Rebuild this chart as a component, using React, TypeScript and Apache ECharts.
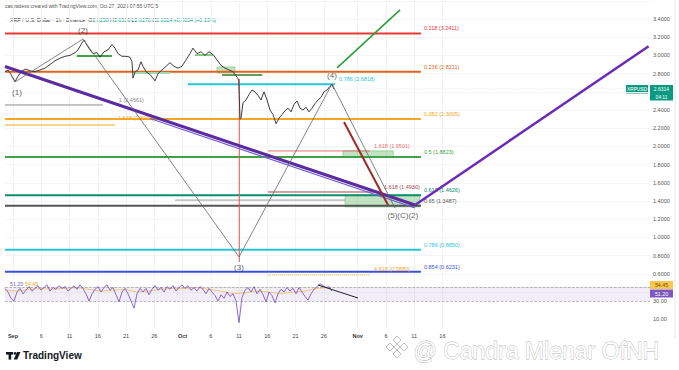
import React, { useEffect, useRef } from 'react';
import * as echarts from 'echarts';

// ---- axis ticks (day 0 = Sep 1) ----
const dayTicks = [0, 5, 10, 15, 20, 25, 30, 35, 40, 45, 50, 55, 61, 66, 71, 76];
const dayTickLabels = ['Sep', '6', '11', '16', '21', '26', 'Oct', '6', '11', '16', '21', '26', 'Nov', '6', '11', '16'];
const monthLabels = ['Sep', 'Oct', 'Nov'];

// ---- price (hourly XRPUSD, sampled) : [day, price] ----
const price: [number, number][] = [
  [-1.42, 2.82], [-0.88, 2.84], [-0.35, 2.79], [0.35, 2.71], [0.88, 2.77], [1.59, 2.83], [2.3, 2.85], [3.01, 2.83],
  [3.89, 2.82], [4.78, 2.84], [5.66, 2.86], [6.55, 2.9], [7.43, 2.94], [8.32, 2.97], [9.2, 2.99], [10.09, 3.0],
  [10.97, 3.03], [11.5, 3.06], [12.04, 3.12], [12.57, 3.17], [13.1, 3.11], [13.63, 3.06], [14.16, 3.02], [14.87, 3.03],
  [15.4, 2.98], [16.11, 3.04], [16.81, 3.06], [17.52, 3.12], [18.05, 3.08], [18.58, 3.02], [19.29, 2.99], [20.0, 2.99],
  [20.71, 2.98], [21.06, 2.93], [21.24, 2.75], [21.59, 2.82], [22.12, 2.84], [22.65, 2.93], [23.01, 2.88], [23.54, 2.82],
  [24.25, 2.79], [25.13, 2.72], [25.66, 2.8], [26.37, 2.84], [27.08, 2.88], [27.79, 2.92], [28.5, 2.88], [29.2, 2.86],
  [29.91, 2.88], [30.62, 2.95], [31.33, 3.02], [31.86, 3.08], [32.57, 3.02], [33.27, 3.04], [33.98, 3.0], [34.69, 3.04],
  [35.4, 3.01], [36.11, 2.95], [36.81, 2.89], [37.52, 2.86], [38.23, 2.84], [38.94, 2.82], [39.65, 2.76], [39.95, 2.73],
  [40.18, 2.3], [40.35, 2.31], [40.71, 2.48], [41.24, 2.51], [41.77, 2.57], [42.3, 2.62], [42.83, 2.6],
  [43.36, 2.56], [43.89, 2.51], [44.42, 2.6], [44.96, 2.51], [45.49, 2.4], [46.02, 2.35], [46.55, 2.25], [47.08, 2.31],
  [47.61, 2.35], [48.14, 2.39], [48.67, 2.42], [49.2, 2.38], [49.73, 2.46], [50.27, 2.5], [50.8, 2.42], [51.33, 2.4],
  [51.86, 2.43], [52.39, 2.38], [52.92, 2.42], [53.45, 2.47], [53.98, 2.51], [54.51, 2.54], [55.04, 2.6], [55.58, 2.62],
  [56.11, 2.66], [56.46, 2.68], [56.81, 2.63],
];
const crashWick: [number, number][] = [[40.05, 2.74], [40.05, 0.73]];
const lastPrice = 2.6314;

// ---- Fibonacci retracement levels ----
const fibRatios = ['0.118', '0.236', '0.382', '0.5', '0.618', '0.65', '0.786', '0.854'];
const fibPrices = [3.2411, 2.8211, 2.3005, 1.8823, 1.4626, 1.3487, 0.865, 0.6231];
const fibSpan = [-1.42, 72.2];
const fibColors = ['#e53935', '#e0651c', '#f5a623', '#43a047', '#0a8f6c', '#555555', '#26c6da', '#3a50d9'];
const fibUpperRatio = '0.786';
const fibUpperPrice = 2.6818;
const fibUpperSpan = [30.97, 57.0];

// ---- trend / wave drawings : [day, price] ----
const purpleDown: [number, number][] = [[-1.42, 2.878], [71.15, 1.356]];
const purpleDownThin: [number, number][] = [[24.25, 2.307], [71.15, 1.323]];
const purpleUp: [number, number][] = [[71.15, 1.356], [112.5, 3.1]];
const greenProjection: [number, number][] = [[57.35, 2.862], [68.5, 3.5]];
const waveZigzag: [number, number][] = [[0.35, 2.708], [12.39, 3.18], [40.0, 0.785], [56.46, 2.686], [67.6, 1.323]];
const redImpulse: [number, number][] = [[58.58, 2.268], [66.37, 1.356]];
const waveLabels: [number, number, string][] = [
  [0.71, 2.587, '(1)'], [12.39, 3.279, '(2)'], [40.0, 0.664, '(3)'], [56.46, 2.774, '(4)'], [69.0, 1.246, '(5)(C)(2)'],
];

// ---- short horizontal levels : [startDay, endDay, price, label] ----
const greyLevel: [number, number, number, string] = [-1.42, 15.9, 2.455, '1 (2.4561)'];
const orangeLevel: [number, number, number, string] = [-1.42, 18.05, 2.235, '1.618 (2.3090)'];
const redLevel: [number, number, number, string] = [45.1, 63.2, 1.95, '1.618 (1.9501)'];
const darkRedLevel: [number, number, number, string] = [45.1, 64.6, 1.499, '1.618 (1.4930)'];
const greyLowLevel: [number, number, number, string] = [28.7, 58.8, 1.41, ''];
const orangeDottedLevel: [number, number, number, string] = [45.1, 63.2, 0.587, '4.618 (0.5880)'];
const greenSegA: [number, number, number] = [11.3, 17.5, 2.993];
const greenSegB: [number, number, number] = [32.2, 35.4, 3.004];
const greenSegC: [number, number, number] = [21.6, 27.8, 2.807];
const greenSegD: [number, number, number] = [37.0, 44.1, 2.785];
const greenBoxes: [number, number, number, number][] = [
  [58.4, 1.951, 67.3, 1.884], [58.76, 1.466, 72.0, 1.334], [36.1, 2.873, 39.3, 2.807],
];

// ---- RSI pane ----
const rsiStart = -1.416;
const rsiStep = 0.531;
const rsiValues = [
  44, 40, 33, 30, 40, 44, 38, 42, 46, 41, 44, 47, 42, 45, 48, 41, 45, 43, 47, 44, 46, 41, 44, 47, 43, 48, 44, 38,
  30, 38, 43, 46, 40, 45, 48, 42, 45, 37, 29, 40, 44, 38, 30, 22, 38, 44, 40, 44, 37, 43, 47, 42, 45, 40, 46, 43,
  47, 41, 45, 48, 44, 47, 42, 45, 41, 46, 43, 38, 44, 40, 36, 30, 37, 33, 40, 35, 38, 30, 6, 34, 42, 45, 40, 46,
  38, 43, 37, 29, 40, 36, 28, 38, 43, 40, 45, 41, 44, 38, 45, 40, 35, 31, 38, 43, 46, 49, 47, 45, 46, 41,
];
const rsiMaStep = 2.124;
const rsiMaValues = [42, 41, 43, 44, 43, 44, 45, 43, 41, 42, 43, 40, 41, 43, 44, 44, 45, 43, 41, 38, 39, 41, 40, 38, 40, 41, 44, 45];
const rsiBand = [30, 45.5];
const rsiTrend: [number, number][] = [[53.98, 47.8], [61.06, 33.3]];
const rsiAxisLabels = [10, 30];

const FONT = 'Liberation Sans, Arial, sans-serif';
const X_MIN = -1.416;
const X_MAX = 112.74;

function seg(data: any[], color: string, width: number, extra: any = {}) {
  return {
    type: 'line', xAxisIndex: 0, yAxisIndex: 0, data, symbol: 'circle', symbolSize: 0, showSymbol: true,
    silent: true, lineStyle: { color, width, type: extra.dash || 'solid' }, itemStyle: { color },
    z: extra.z || 3,
  };
}

function levelSeries(lvl: [number, number, number, string], color: string, width: number, dist: number, off: number, dash?: string) {
  const [a, b, p, text] = lvl;
  const end: any = { value: [b, p] };
  if (text) {
    end.label = { show: true, formatter: text, position: 'right', distance: dist, offset: [0, off], color, fontSize: 5.5, fontFamily: FONT };
  }
  return seg([[a, p], end], color, width, { dash });
}

export default function App() {
  const ref = useRef<HTMLDivElement>(null);
  useEffect(() => {
    const chart = echarts.init(ref.current!, null, { renderer: 'svg' });
    const series: any[] = [];

    // fib lines
    fibPrices.forEach((p, i) => {
      series.push(levelSeries([fibSpan[0], fibSpan[1], p, `${fibRatios[i]} (${p.toFixed(4)})`], fibColors[i], 2, 3, -5));
    });
    series.push(levelSeries([fibUpperSpan[0], fibUpperSpan[1], fibUpperPrice, `${fibUpperRatio} (${fibUpperPrice.toFixed(4)})`], '#26c6da', 2, 4, -5));
    series.push(levelSeries(greyLevel, '#8a8a8a', 1, 16, -5));
    series.push(levelSeries(orangeLevel, '#f5a623', 1, 3, -7));
    series.push(levelSeries(redLevel, '#e57373', 1, 4, -5));
    series.push(levelSeries(darkRedLevel, '#a04848', 1, 6, -5));
    series.push(levelSeries(greyLowLevel, '#9a9a9a', 1, 3, -5));
    series.push(levelSeries(orangeDottedLevel, '#f5a623', 1, 4, -6, 'dotted'));
    [greenSegA, greenSegB, greenSegC, greenSegD].forEach((g, i) => {
      const cols = ['#43a047', '#81c784', '#a5d6a7', '#2e7d32'];
      series.push(seg([[g[0], g[2]], [g[1], g[2]]], cols[i], i === 3 ? 1.5 : 2));
    });

    // current price line
    series.push(seg([[56.81, lastPrice], [X_MAX, lastPrice]], '#d5d5d5', 0.6, { dash: 'dotted', z: 2 }));

    // price
    series.push({
      type: 'line', xAxisIndex: 0, yAxisIndex: 0, data: price, showSymbol: false, symbol: 'none', silent: true,
      lineStyle: { color: '#3d3d3d', width: 1 }, z: 5,
      markArea: {
        silent: true,
        data: greenBoxes.map((b) => [
          { coord: [b[0], b[1]], itemStyle: { color: 'rgba(76,175,80,0.35)', borderColor: '#66bb6a', borderWidth: 0.5 } },
          { coord: [b[2], b[3]] },
        ]),
      },
    });
    series.push(seg(crashWick, '#ef5350', 1, { z: 4 }));

    // drawings
    series.push(seg(purpleDown, '#5b2ca0', 3, { z: 6 }));
    series.push(seg(purpleDownThin, '#6f5bd6', 1.2, { z: 6 }));
    series.push(seg(purpleUp, '#6a2bb8', 2.5, { z: 6 }));
    series.push(seg(greenProjection, '#2e9e3a', 1.6, { z: 6 }));
    series.push(seg(waveZigzag, '#666666', 0.8, { z: 6 }));
    series.push(seg(redImpulse, '#9c2a2a', 2, { z: 6 }));
    series.push({
      type: 'scatter', xAxisIndex: 0, yAxisIndex: 0, symbolSize: 0, silent: true, z: 8,
      data: waveLabels.map((w) => ({ value: [w[0], w[1]], name: w[2] })),
      label: { show: true, position: 'inside', formatter: (p: any) => p.name, color: '#2f2f2f', fontSize: 8, fontFamily: FONT },
    });

    // RSI pane
    series.push({
      type: 'line', xAxisIndex: 1, yAxisIndex: 1, showSymbol: false, symbol: 'none', silent: true,
      data: rsiValues.map((v, i) => [rsiStart + i * rsiStep, v]),
      lineStyle: { color: '#7e57c2', width: 0.9 }, z: 5,
      markArea: { silent: true, itemStyle: { color: 'rgba(126,87,194,0.1)' }, data: [[{ yAxis: rsiBand[0] }, { yAxis: rsiBand[1] }]] },
      markLine: {
        silent: true, symbol: 'none', label: { show: false },
        lineStyle: { color: '#9a9a9a', type: 'dashed', width: 0.7 },
        data: [{ yAxis: rsiBand[0] }, { yAxis: rsiBand[1] }],
      },
    });
    series.push({
      type: 'line', xAxisIndex: 1, yAxisIndex: 1, showSymbol: false, symbol: 'none', silent: true,
      data: rsiMaValues.map((v, i) => [rsiStart + i * rsiMaStep, v]),
      lineStyle: { color: '#f5a623', width: 0.7, opacity: 0.8 }, z: 4,
    });
    series.push({
      type: 'line', xAxisIndex: 1, yAxisIndex: 1, showSymbol: false, symbol: 'none', silent: true,
      data: rsiTrend, lineStyle: { color: '#222', width: 1 }, z: 6,
    });

    const xLabelFmt = (v: number) => {
      const i = dayTicks.indexOf(Math.round(v));
      if (i < 0) return '';
      const t = dayTickLabels[i];
      return monthLabels.includes(t) ? `{b|${t}}` : t;
    };

    const graphic: any[] = [
      { type: 'text', left: 5, top: 3, style: { text: 'castradess created with TradingView.com, Oct 27, 2025 07:55 UTC-5', fill: '#555', fontSize: 5, fontFamily: FONT } },
      {
        type: 'text', left: 10, top: 17,
        style: {
          text: '{d|XRP / U.S. Dollar · 1h · Binance}  {d|O}{g|2.6258} {d|H}{g|2.6516} {d|L}{g|2.6170} {d|C}{g|2.6314} {g|+0.0034 (+0.13%)}',
          fontSize: 5.3, fontFamily: FONT,
          rich: { d: { fill: '#333', fontSize: 5.3, fontFamily: FONT }, g: { fill: '#089981', fontSize: 5.3, fontFamily: FONT } },
        },
      },
      // right axis border
      { type: 'line', shape: { x1: 675, y1: 0, x2: 675, y2: 338 }, style: { stroke: '#e6e6e6', lineWidth: 1 } },
      // price tag
      { type: 'rect', shape: { x: 626, y: 85, width: 22, height: 8.5 }, style: { fill: '#089981' } },
      { type: 'text', x: 637, y: 89.3, style: { text: 'XRPUSD', fill: '#fff', fontSize: 4.8, fontFamily: FONT, align: 'center', verticalAlign: 'middle' } },
      { type: 'rect', shape: { x: 650, y: 85, width: 23, height: 15.5 }, style: { fill: '#089981' } },
      { type: 'text', x: 661.5, y: 88.7, style: { text: '2.6314', fill: '#fff', fontSize: 5, fontFamily: FONT, align: 'center', verticalAlign: 'middle' } },
      { type: 'text', x: 661.5, y: 96.5, style: { text: '04:11', fill: '#fff', fontSize: 5, fontFamily: FONT, align: 'center', verticalAlign: 'middle' } },
      // RSI tags
      { type: 'rect', shape: { x: 650, y: 281, width: 23, height: 8 }, style: { fill: '#f9c74f' } },
      { type: 'text', x: 661.5, y: 285, style: { text: '54.45', fill: '#7a4b00', fontSize: 5.3, fontFamily: FONT, align: 'center', verticalAlign: 'middle' } },
      { type: 'rect', shape: { x: 650, y: 289.5, width: 23, height: 8 }, style: { fill: '#7e57c2' } },
      { type: 'text', x: 661.5, y: 293.5, style: { text: '51.20', fill: '#fff', fontSize: 5.3, fontFamily: FONT, align: 'center', verticalAlign: 'middle' } },
      // RSI legend
      { type: 'text', left: 10, top: 281, style: { text: '51.20', fill: '#7e57c2', fontSize: 5.3, fontFamily: FONT } },
      { type: 'text', left: 25, top: 281, style: { text: '54.45', fill: '#f5a623', fontSize: 5.3, fontFamily: FONT } },
      // TradingView logo
      { type: 'rect', shape: { x: 6, y: 352, width: 7, height: 2.6 }, style: { fill: '#131722' } },
      { type: 'rect', shape: { x: 8.6, y: 352, width: 2.6, height: 7.6 }, style: { fill: '#131722' } },
      { type: 'circle', shape: { cx: 15, cy: 353.4, r: 1.4 }, style: { fill: '#131722' } },
      { type: 'polygon', shape: { points: [[17, 352], [20.5, 352], [17.2, 359.6], [13.8, 359.6]] }, style: { fill: '#131722' } },
      { type: 'text', left: 23, top: 350, style: { text: 'TradingView', fill: '#131722', fontSize: 10, fontWeight: 'bold', fontFamily: FONT } },
      // watermark logo (diamonds)
      ...[[397, 340], [390, 347], [404, 347], [397, 354], [397, 347]].map(([cx, cy], i) => ({
        type: 'polygon',
        shape: { points: [[cx, cy - (i === 4 ? 3 : 4)], [cx + (i === 4 ? 3 : 4), cy], [cx, cy + (i === 4 ? 3 : 4)], [cx - (i === 4 ? 3 : 4), cy]] },
        style: { fill: '#fff', stroke: '#b5b5b5', lineWidth: 0.9 }, z: 100,
      })),
      {
        type: 'text', left: 413, top: 339, z: 100,
        style: { text: '@ Candra Mlenar OfNH', fill: '#ffffff', stroke: '#b0b0b0', lineWidth: 0.8, fontSize: 23, fontFamily: FONT },
      },
    ];

    chart.setOption({
      animation: false,
      backgroundColor: '#ffffff',
      textStyle: { fontFamily: FONT },
      grid: [
        { left: 5, right: 29, top: 0.8, height: 291.2, containLabel: false },
        { left: 5, right: 29, top: 274, height: 54, containLabel: false },
      ],
      xAxis: [
        {
          type: 'value', gridIndex: 0, min: X_MIN, max: X_MAX,
          axisLine: { show: false }, axisLabel: { show: false },
          axisTick: { show: false, customValues: dayTicks },
          splitLine: { show: true, lineStyle: { color: '#f3f3f3', width: 1 } },
        },
        {
          type: 'value', gridIndex: 1, min: X_MIN, max: X_MAX,
          axisLine: { show: false },
          axisTick: { show: false, customValues: dayTicks },
          axisLabel: {
            customValues: dayTicks, formatter: xLabelFmt, color: '#444', fontSize: 5.5, margin: 5, fontFamily: FONT,
            rich: { b: { fontWeight: 'bold', fontSize: 5.5, color: '#333', fontFamily: FONT } },
          },
          splitLine: { show: true, lineStyle: { color: '#f3f3f3', width: 1 } },
        },
      ],
      yAxis: [
        {
          type: 'value', gridIndex: 0, position: 'right', min: 0.4, max: 3.6, interval: 0.2,
          axisLine: { show: false }, axisTick: { show: false },
          axisLabel: {
            color: '#555', fontSize: 5.5, margin: 3, fontFamily: FONT,
            formatter: (v: number) => (v < 0.55 || v > 3.45 || Math.abs(v - 2.6) < 0.01 ? '' : v.toFixed(4)),
          },
          splitLine: { show: true, lineStyle: { color: '#f5f5f5', width: 1 } },
        },
        {
          type: 'value', gridIndex: 1, position: 'right', min: 0, max: 60, interval: 10,
          axisLine: { show: false }, axisTick: { show: false },
          axisLabel: {
            color: '#555', fontSize: 5.5, margin: 3, fontFamily: FONT,
            formatter: (v: number) => (rsiAxisLabels.includes(v) ? v.toFixed(2) : ''),
          },
          splitLine: { show: false },
        },
      ],
      series,
      graphic,
    });
    return () => chart.dispose();
  }, []);
  return <div ref={ref} style={{ width: 679, height: 370, position: 'absolute', left: 0, top: 0 }} />;
}
